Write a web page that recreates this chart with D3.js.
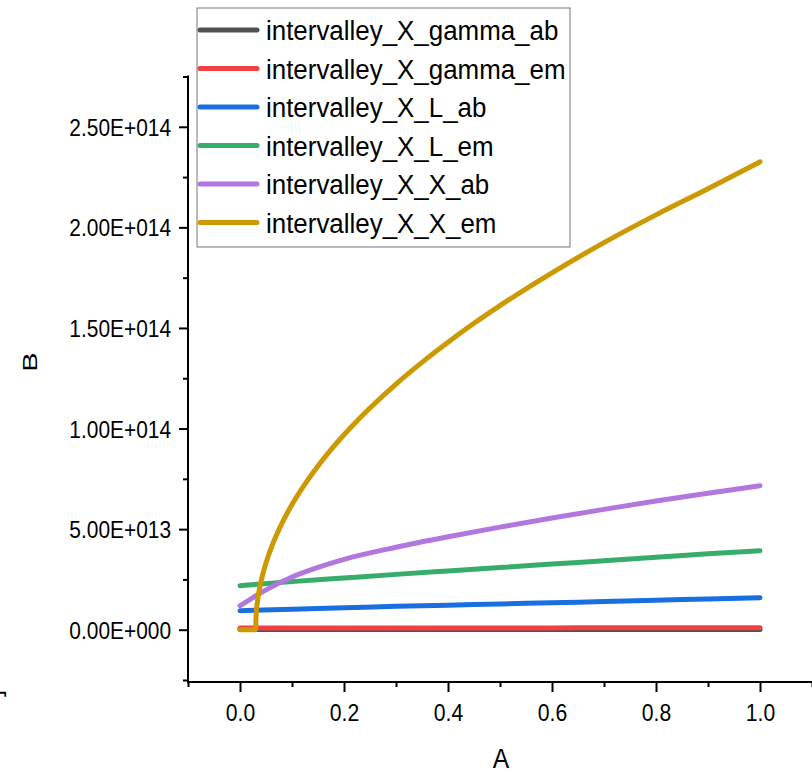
<!DOCTYPE html>
<html>
<head>
<meta charset="utf-8">
<script src="https://cdn.jsdelivr.net/npm/d3@7/dist/d3.min.js"></script>
<style>
  html, body { margin: 0; padding: 0; background: #fff; }
  svg { display: block; font-family: "Liberation Sans", Arial, sans-serif; }
</style>
</head>
<body>
<svg id="chart" width="812" height="773"></svg>
<script>
// ---------- data ----------
const seriesNames = [
  "intervalley_X_gamma_ab",
  "intervalley_X_gamma_em",
  "intervalley_X_L_ab",
  "intervalley_X_L_em",
  "intervalley_X_X_ab",
  "intervalley_X_X_em"
];
const seriesColors = ["#515151", "#F14040", "#1A6FDF", "#37AD6B", "#B177DE", "#CC9900"];

const xCommon = [0, 0.1, 0.2, 0.3, 0.4, 0.5, 0.6, 0.7, 0.8, 0.9, 1.0];
const gammaAb = [0.01e13, 0.01e13, 0.01e13, 0.01e13, 0.01e13, 0.01e13, 0.01e13, 0.01e13, 0.01e13, 0.01e13, 0.01e13];
const gammaEm = [0.08e13, 0.08e13, 0.08e13, 0.09e13, 0.09e13, 0.09e13, 0.09e13, 0.1e13, 0.1e13, 0.1e13, 0.1e13];
const lAb     = [0.94e13, 1.02e13, 1.09e13, 1.16e13, 1.22e13, 1.28e13, 1.34e13, 1.40e13, 1.46e13, 1.53e13, 1.59e13];
const lEm     = [2.19e13, 2.39e13, 2.57e13, 2.75e13, 2.92e13, 3.09e13, 3.26e13, 3.43e13, 3.60e13, 3.77e13, 3.93e13];

const xXab = [0, 0.025, 0.05, 0.1, 0.15, 0.2, 0.3, 0.4, 0.5, 0.6, 0.7, 0.8, 0.9, 1.0];
const xxAb = [1.19e13, 1.60e13, 1.98e13, 2.62e13, 3.10e13, 3.50e13, 4.10e13, 4.62e13, 5.10e13, 5.55e13, 5.98e13, 6.40e13, 6.78e13, 7.16e13];

const xXem = [0, 0.03, 0.031, 0.035, 0.04, 0.05, 0.06, 0.07, 0.085, 0.1, 0.12, 0.15, 0.175, 0.2, 0.225, 0.25, 0.3, 0.35, 0.4, 0.45, 0.5, 0.6, 0.7, 0.8, 0.9, 1.0];
const xxEm = [0, 0, 0.074e14, 0.166e14, 0.235e14, 0.332e14, 0.407e14, 0.470e14, 0.551e14, 0.622e14, 0.705e14, 0.814e14, 0.895e14, 0.969e14, 1.038e14, 1.102e14, 1.221e14, 1.329e14, 1.429e14, 1.523e14, 1.611e14, 1.774e14, 1.924e14, 2.062e14, 2.192e14, 2.326e14];

const xTickValues = [0, 0.2, 0.4, 0.6, 0.8, 1.0];
const xTickLabels = ["0.0", "0.2", "0.4", "0.6", "0.8", "1.0"];
const xMinorTicks = [-0.1, 0.1, 0.3, 0.5, 0.7, 0.9, 1.1];
const yTickValues = [0, 5e13, 1e14, 1.5e14, 2e14, 2.5e14];
const yTickLabels = ["0.00E+000", "5.00E+013", "1.00E+014", "1.50E+014", "2.00E+014", "2.50E+014"];
const yMinorTicks = [-2.5e13, 2.5e13, 7.5e13, 1.25e14, 1.75e14, 2.25e14, 2.75e14];

const xLabel = "A";
const yLabel = "B";

const seriesX = [xCommon, xCommon, xCommon, xCommon, xXab, xXem];
const seriesY = [gammaAb, gammaEm, lAb, lEm, xxAb, xxEm];

// ---------- layout ----------
const svg = d3.select("#chart");
const x = d3.scaleLinear().domain([-0.1, 1.1]).range([188, 812]);
const y = d3.scaleLinear().domain([-2.6e13, 2.75e14]).range([682, 76.5]);
const x0 = 188, y0 = 682;

// ---------- series ----------
const line = d3.line().x(d => x(d[0])).y(d => y(d[1])).curve(d3.curveMonotoneX);
seriesNames.forEach((name, i) => {
  const pts = seriesX[i].map((xv, j) => [xv, seriesY[i][j]]);
  svg.append("path")
    .datum(pts)
    .attr("d", line)
    .attr("fill", "none")
    .attr("stroke", seriesColors[i])
    .attr("stroke-width", 5)
    .attr("stroke-linecap", "round")
    .attr("stroke-linejoin", "round");
});

// ---------- axes ----------
const xAxis = svg.append("g").attr("transform", `translate(0,${y0})`)
  .call(d3.axisBottom(x).tickValues(xTickValues).tickSize(10).tickPadding(8)
    .tickFormat((d, i) => xTickLabels[i]));
svg.append("g").attr("transform", `translate(0,${y0})`)
  .call(d3.axisBottom(x).tickValues(xMinorTicks).tickSize(5).tickFormat(""))
  .select(".domain").remove();

const yAxis = svg.append("g").attr("transform", `translate(${x0},0)`)
  .call(d3.axisLeft(y).tickValues(yTickValues).tickSize(9).tickPadding(10)
    .tickFormat((d, i) => yTickLabels[i]));
svg.append("g").attr("transform", `translate(${x0},0)`)
  .call(d3.axisLeft(y).tickValues(yMinorTicks).tickSize(5).tickFormat(""))
  .select(".domain").remove();

svg.selectAll(".tick line").attr("stroke", "#000").attr("stroke-width", 2);
xAxis.select(".domain").remove();
yAxis.select(".domain").remove();
svg.append("line").attr("x1", x0).attr("x2", 812).attr("y1", y0).attr("y2", y0)
  .attr("stroke", "#000").attr("stroke-width", 2);
svg.append("line").attr("x1", x0).attr("x2", x0).attr("y1", y0 + 1).attr("y2", 75.5)
  .attr("stroke", "#000").attr("stroke-width", 2);

xAxis.selectAll("text")
  .attr("font-size", 23.5).attr("fill", "#000")
  .attr("dy", 0).attr("y", 39.5)
  .attr("transform", "scale(0.9,1)");
yAxis.selectAll("text")
  .attr("font-size", 23.5).attr("fill", "#000")
  .attr("x", -19).attr("dy", 0).attr("y", 8.5)
  .attr("transform", "scale(0.89,1)");

// ---------- axis titles ----------
svg.append("text")
  .attr("transform", "translate(501,768) scale(0.88,1)")
  .attr("text-anchor", "middle")
  .attr("font-size", 28)
  .text(xLabel);
svg.append("text")
  .attr("transform", "translate(37,362) scale(0.72,1) rotate(-90)")
  .attr("text-anchor", "middle")
  .attr("font-size", 29)
  .text(yLabel);
svg.append("text")
  .attr("transform", "translate(1,697) rotate(-90)")
  .attr("text-anchor", "start")
  .attr("font-size", 26)
  .text("]");

// ---------- legend ----------
const legend = svg.append("g");
legend.append("rect")
  .attr("x", 197).attr("y", 8).attr("width", 373).attr("height", 239)
  .attr("fill", "#fff").attr("stroke", "#777").attr("stroke-width", 1);
seriesNames.forEach((name, i) => {
  const cy = 30 + i * 38.5;
  legend.append("line")
    .attr("x1", 200).attr("x2", 257).attr("y1", cy).attr("y2", cy)
    .attr("stroke", seriesColors[i]).attr("stroke-width", 5)
    .attr("stroke-linecap", "round");
  legend.append("text")
    .attr("transform", `translate(266,${cy + 10}) scale(0.96,1)`)
    .attr("font-size", 27)
    .attr("fill", "#000")
    .text(name);
});
</script>
</body>
</html>
